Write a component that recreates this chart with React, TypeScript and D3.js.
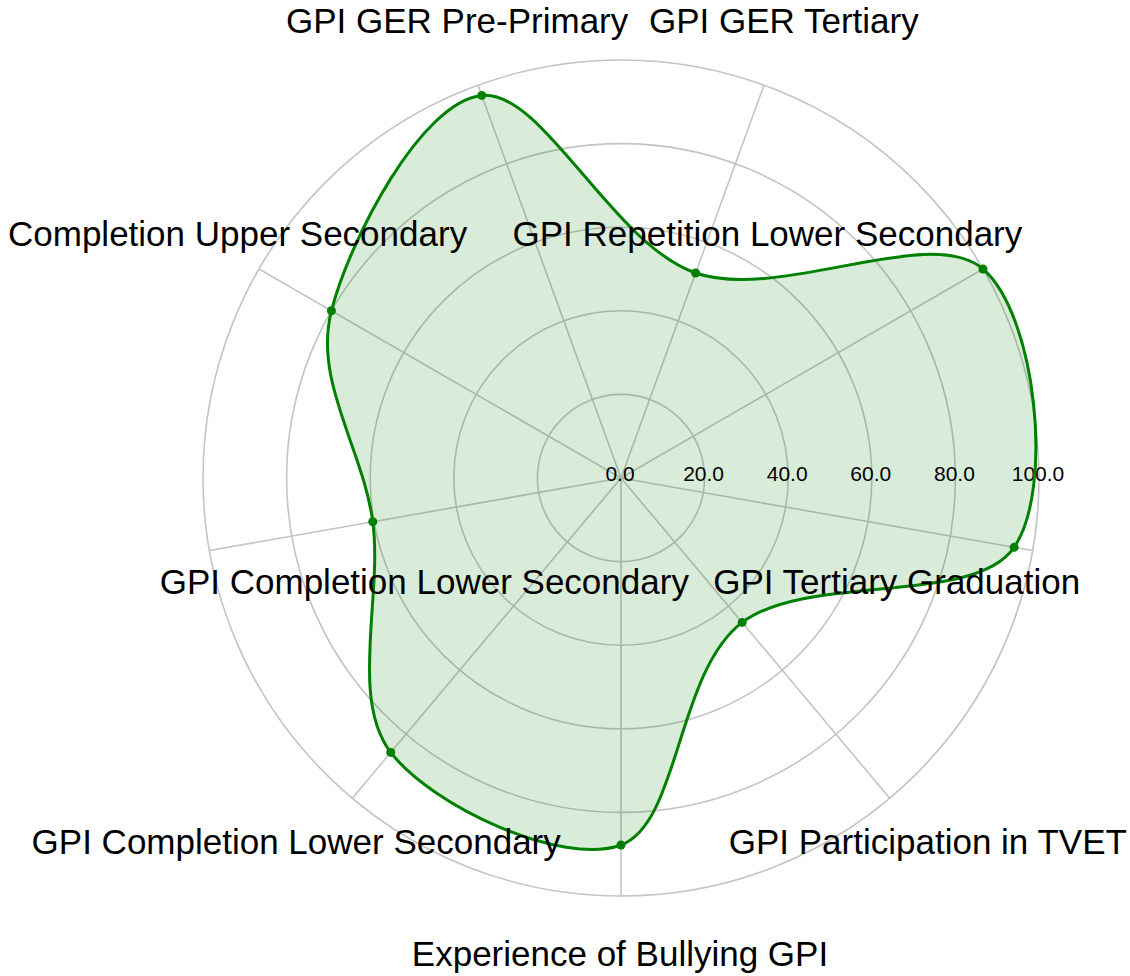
import React, { useRef, useEffect } from 'react';
import * as d3 from 'd3';

// axis labels, starting at the bottom and going counter-clockwise
const categories: string[] = [
  'Experience of Bullying GPI',
  'GPI Participation in TVET',
  'GPI Tertiary Graduation',
  'GPI Repetition Lower Secondary',
  'GPI GER Tertiary',
  'GPI GER Pre-Primary',
  'Completion Upper Secondary',
  'GPI Completion Lower Secondary',
  'GPI Completion Lower Secondary',
];

const values: number[] = [87.8, 45.1, 95.5, 100.0, 52.2, 97.4, 80.0, 60.3, 85.7];

const radialTicks: number[] = [0, 20, 40, 60, 80, 100];

// where the renderer pushed each angular label away from its spoke (px)
const labelNudge: [number, number][] = [
  [-1, -3], [-3, -2], [-199, 23], [-271, 0], [-2, -1],
  [1, -1], [34, 0], [278, 23], [-15, -2],
];

const RadarChart = ({ width = 1130, height = 976 }) => {
  const svgRef = useRef<SVGSVGElement | null>(null);

  useEffect(() => {
    if (!svgRef.current) return;

    const cx = 621;
    const cy = 478;
    const outer = 418;
    const n = categories.length;

    const svg = d3.select(svgRef.current);
    svg.selectAll('*').remove();

    const rScale = d3.scaleLinear().domain([0, 100]).range([0, outer]);
    // math angle in degrees, 270 = straight down, counter-clockwise
    const angle = (i: number) => ((270 + (i * 360) / n) * Math.PI) / 180;
    const pt = (i: number, r: number): [number, number] => [
      cx + r * Math.cos(angle(i)),
      cy - r * Math.sin(angle(i)),
    ];

    const g = svg.append('g');

    // grid circles
    g.selectAll('.ring')
      .data(radialTicks.filter(d => d > 0))
      .enter()
      .append('circle')
      .attr('cx', cx)
      .attr('cy', cy)
      .attr('r', d => rScale(d))
      .attr('fill', 'none')
      .attr('stroke', '#c4c4c4')
      .attr('stroke-width', 1.6);

    // spokes
    g.selectAll('.spoke')
      .data(categories)
      .enter()
      .append('line')
      .attr('x1', cx)
      .attr('y1', cy)
      .attr('x2', (_, i) => pt(i, outer)[0])
      .attr('y2', (_, i) => pt(i, outer)[1])
      .attr('stroke', '#c4c4c4')
      .attr('stroke-width', 1.6);

    // data shape
    const pts = values.map((v, i) => pt(i, rScale(v)));
    const line = d3.line().curve(d3.curveCardinalClosed.tension(0));

    g.append('path')
      .attr('d', line(pts))
      .attr('fill', 'green')
      .attr('fill-opacity', 0.15)
      .attr('stroke', 'none');

    // radial tick labels
    g.selectAll('.rtick')
      .data(radialTicks)
      .enter()
      .append('text')
      .attr('x', d => cx + rScale(d) - 1)
      .attr('y', cy - 3)
      .attr('text-anchor', 'middle')
      .attr('dominant-baseline', 'middle')
      .attr('font-family', 'Liberation Sans, Arial, sans-serif')
      .attr('font-size', 21)
      .attr('fill', '#000')
      .text(d => d.toFixed(1));

    g.append('path')
      .attr('d', line(pts))
      .attr('fill', 'none')
      .attr('stroke', 'green')
      .attr('stroke-width', 3);

    g.selectAll('.point')
      .data(pts)
      .enter()
      .append('circle')
      .attr('cx', d => d[0])
      .attr('cy', d => d[1])
      .attr('r', 4.5)
      .attr('fill', 'green');

    // angular labels
    g.selectAll('.alabel')
      .data(categories)
      .enter()
      .append('text')
      .attr('x', (_, i) => pt(i, 482)[0] + labelNudge[i][0])
      .attr('y', (_, i) => pt(i, 482)[1] + labelNudge[i][1])
      .attr('text-anchor', 'middle')
      .attr('dominant-baseline', 'middle')
      .attr('font-family', 'Liberation Sans, Arial, sans-serif')
      .attr('font-size', 35)
      .attr('fill', '#000')
      .text(d => d);
  }, [width, height]);

  return <svg ref={svgRef} width={width} height={height} style={{ display: 'block', background: '#fff' }} />;
};

export default function App() {
  useEffect(() => {
    document.body.style.margin = '0';
    document.body.style.overflow = 'hidden';
  }, []);
  return <RadarChart />;
}
